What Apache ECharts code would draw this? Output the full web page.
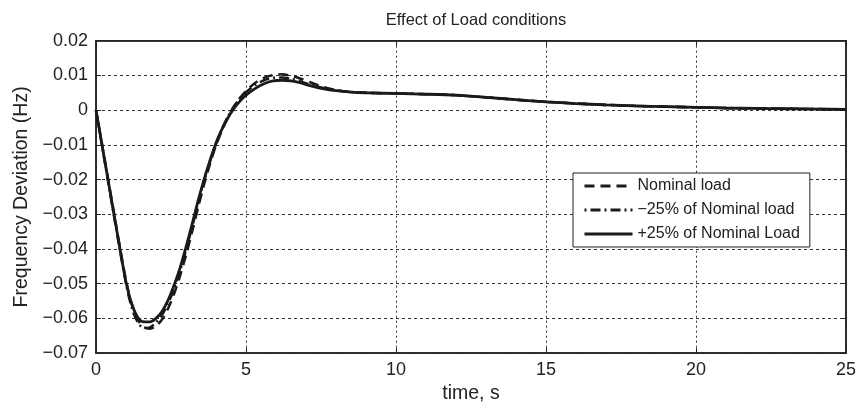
<!DOCTYPE html>
<html>
<head>
<meta charset="utf-8">
<script src="https://cdn.jsdelivr.net/npm/echarts@6/dist/echarts.min.js"></script>
<style>
html,body{margin:0;padding:0;background:#fff;}
#chart{width:859px;height:409px;}
</style>
</head>
<body>
<div id="chart"></div>
<script>
var seriesNames = ['Nominal load', '\u221225% of Nominal load', '+25% of Nominal Load'];
var timeFast = [0,0.2,0.4,0.6,0.8,1.0,1.2,1.4,1.6,1.8,2.0,2.2,2.4,2.6,2.8,3.0,3.2,3.4,3.6,3.8,4.0,4.2,4.4,4.6,4.8,5.0,5.3,5.6,5.9,6.2,6.5,6.8,7.2,7.6,8.0,8.5];
var timeSlow = [9,10,11,12,13,14,15,16,17,18,19,20,21,22,23,24,25];
var nominalFast = [0,-0.0098,-0.0197,-0.0297,-0.0396,-0.0490,-0.0562,-0.0605,-0.0625,-0.0630,-0.0622,-0.0603,-0.0572,-0.0530,-0.0478,-0.0418,-0.0352,-0.0282,-0.0215,-0.0155,-0.0102,-0.0058,-0.0020,0.0010,0.0035,0.0055,0.0078,0.0093,0.0101,0.0103,0.0099,0.0091,0.0078,0.0066,0.0058,0.0052];
var minus25Fast = [0,-0.0102,-0.0204,-0.0306,-0.0405,-0.0500,-0.0572,-0.0612,-0.0628,-0.0626,-0.0612,-0.0590,-0.0558,-0.0515,-0.0463,-0.0403,-0.0338,-0.0270,-0.0205,-0.0148,-0.0098,-0.0054,-0.0018,0.0011,0.0034,0.0052,0.0072,0.0086,0.0093,0.0094,0.0090,0.0083,0.0072,0.0063,0.0057,0.0052];
var plus25Fast = [0,-0.0100,-0.0200,-0.0300,-0.0400,-0.0495,-0.0560,-0.0598,-0.0610,-0.0610,-0.0600,-0.0580,-0.0548,-0.0505,-0.0455,-0.0395,-0.0330,-0.0262,-0.0200,-0.0145,-0.0095,-0.0055,-0.0022,0.0005,0.0026,0.0043,0.0062,0.0076,0.0084,0.0086,0.0084,0.0079,0.0069,0.0061,0.0056,0.0052];
var tailValues = [0.0050,0.0048,0.0046,0.0043,0.0037,0.0030,0.0024,0.0019,0.0015,0.0012,0.0010,0.0008,0.0006,0.0005,0.0004,0.0003,0.0002];
var xTicks = [0,5,10,15,20,25];
var yTicks = [-0.07,-0.06,-0.05,-0.04,-0.03,-0.02,-0.01,0,0.01,0.02];

function pairs(fast){
  var out = [];
  for (var i=0;i<timeFast.length;i++) out.push([timeFast[i], fast[i]]);
  for (var j=0;j<timeSlow.length;j++) out.push([timeSlow[j], tailValues[j]]);
  return out;
}
function fmtY(v){
  var r = Math.round(v*100)/100;
  if (Math.abs(r) < 1e-9) return '0';
  var s = Math.abs(r).toFixed(2);
  return (r<0 ? '\u2212' : '') + s;
}
var FONT = '"Liberation Sans", Arial, Helvetica, sans-serif';
var TXT = '#222';
var chart = echarts.init(document.getElementById('chart'), null, {renderer:'canvas'});
var axLine = {show:true, onZero:false, lineStyle:{color:'#222', width:1.5}};
var axTick = {show:true, inside:true, length:5, lineStyle:{color:'#222'}};
chart.setOption({
  animation:false,
  backgroundColor:'#fff',
  title:{text:'Effect of Load conditions', left:471, top:7, textAlign:'center',
    textStyle:{fontFamily:FONT, fontSize:16.5, fontWeight:'normal', color:TXT}},
  grid:{left:96, right:12.5, top:40.7, bottom:53.3, show:true, borderColor:'#222', borderWidth:1.5, backgroundColor:'#fff'},
  legend:{
    orient:'vertical', left:573, top:173, width:233,
    backgroundColor:'#fff', borderColor:'#222', borderWidth:1,
    padding:[5,10,5,10], itemGap:8, itemWidth:48, itemHeight:14,
    itemStyle:{opacity:0},
    lineStyle:{width:3},
    textStyle:{fontFamily:FONT, fontSize:16, color:TXT, padding:[0,0,0,0]},
    data:seriesNames
  },
  xAxis:[{
    type:'value', min:0, max:25, interval:5, position:'bottom',
    name:'time, s', nameLocation:'middle', nameGap:29,
    nameTextStyle:{fontFamily:FONT, fontSize:19.5, color:TXT},
    axisLabel:{fontFamily:FONT, fontSize:18, color:TXT, margin:8},
    axisLine:axLine, axisTick:axTick,
    splitLine:{show:true, lineStyle:{color:'#333', type:[2,3], width:1}}
  },{
    type:'value', min:0, max:25, interval:5, position:'top',
    axisLabel:{show:false}, axisLine:axLine, axisTick:axTick, splitLine:{show:false}
  }],
  yAxis:[{
    type:'value', min:-0.07, max:0.02, interval:0.01, position:'left',
    name:'Frequency Deviation (Hz)', nameLocation:'middle', nameGap:64,
    nameTextStyle:{fontFamily:FONT, fontSize:19.5, color:TXT},
    axisLabel:{fontFamily:FONT, fontSize:18, color:TXT, margin:8, formatter:fmtY},
    axisLine:axLine, axisTick:axTick,
    splitLine:{show:true, lineStyle:{color:'#333', type:[3,3], width:1}}
  },{
    type:'value', min:-0.07, max:0.02, interval:0.01, position:'right',
    axisLabel:{show:false}, axisLine:axLine, axisTick:axTick, splitLine:{show:false}
  }],
  series:[
    {name:seriesNames[0], type:'line', symbol:'none', data:pairs(nominalFast), smooth:0.3,
     lineStyle:{color:'#1a1a1a', width:2.5, type:[10,6]}, itemStyle:{color:'#1a1a1a'}, z:3},
    {name:seriesNames[1], type:'line', symbol:'none', data:pairs(minus25Fast), smooth:0.3,
     lineStyle:{color:'#1a1a1a', width:2.5, type:[2,4,10,4]}, itemStyle:{color:'#1a1a1a'}, z:3},
    {name:seriesNames[2], type:'line', symbol:'none', data:pairs(plus25Fast), smooth:0.3,
     lineStyle:{color:'#1a1a1a', width:2.8, type:'solid'}, itemStyle:{color:'#1a1a1a'}, z:4}
  ]
});
</script>
</body>
</html>
